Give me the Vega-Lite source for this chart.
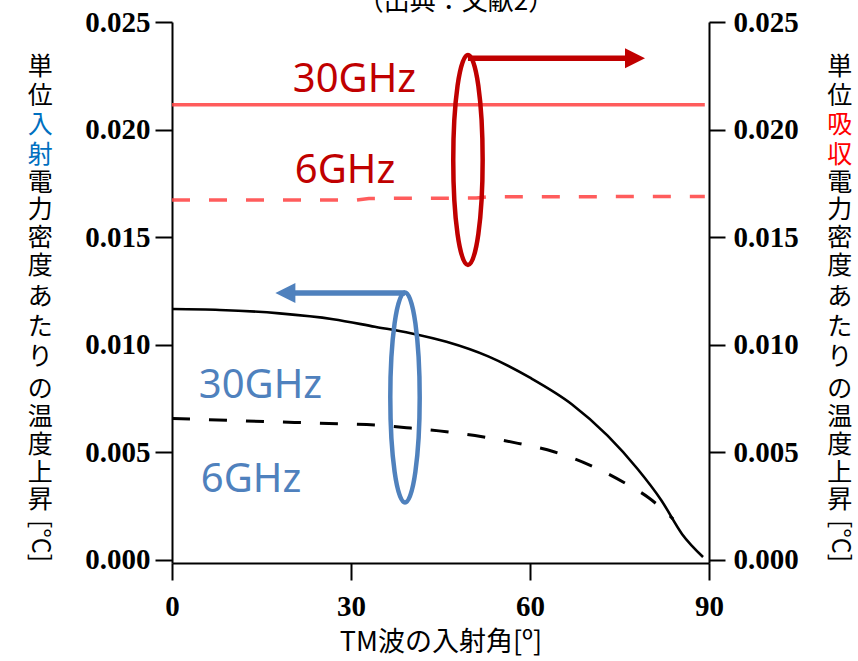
{
  "$schema": "https://vega.github.io/schema/vega-lite/v6.json",
  "autosize": {"type": "none"},
  "width": 537,
  "height": 541,
  "padding": {"left": 172, "top": 22, "right": 149, "bottom": 98},
  "background": "white",
  "config": {
    "view": {"stroke": null},
    "axis": {"grid": false, "domainColor": "black", "tickColor": "black", "labelColor": "black", "titleColor": "black", "domainWidth": 2, "tickWidth": 2, "labelFlush": false, "labelOverlap": false}
  },
  "datasets": {
    "curves": [
      {"angle": 0, "value": 0.01166, "series": "30GHz入射"},
      {"angle": 8, "value": 0.01162, "series": "30GHz入射"},
      {"angle": 18, "value": 0.01146, "series": "30GHz入射"},
      {"angle": 27, "value": 0.01119, "series": "30GHz入射"},
      {"angle": 34, "value": 0.01084, "series": "30GHz入射"},
      {"angle": 40, "value": 0.01054, "series": "30GHz入射"},
      {"angle": 46, "value": 0.01014, "series": "30GHz入射"},
      {"angle": 53, "value": 0.00946, "series": "30GHz入射"},
      {"angle": 60, "value": 0.00847, "series": "30GHz入射"},
      {"angle": 67, "value": 0.00724, "series": "30GHz入射"},
      {"angle": 73, "value": 0.00578, "series": "30GHz入射"},
      {"angle": 78, "value": 0.00424, "series": "30GHz入射"},
      {"angle": 82, "value": 0.00278, "series": "30GHz入射"},
      {"angle": 85.5, "value": 0.0012, "series": "30GHz入射"},
      {"angle": 89, "value": 0.00014, "series": "30GHz入射"},
      {"angle": 0, "value": 0.00658, "series": "6GHz入射"},
      {"angle": 16, "value": 0.00643, "series": "6GHz入射"},
      {"angle": 28, "value": 0.00633, "series": "6GHz入射"},
      {"angle": 34, "value": 0.00627, "series": "6GHz入射"},
      {"angle": 40, "value": 0.00613, "series": "6GHz入射"},
      {"angle": 46, "value": 0.00596, "series": "6GHz入射"},
      {"angle": 52, "value": 0.00573, "series": "6GHz入射"},
      {"angle": 58, "value": 0.00542, "series": "6GHz入射"},
      {"angle": 64, "value": 0.00503, "series": "6GHz入射"},
      {"angle": 70, "value": 0.00441, "series": "6GHz入射"},
      {"angle": 76, "value": 0.00356, "series": "6GHz入射"},
      {"angle": 80, "value": 0.00287, "series": "6GHz入射"},
      {"angle": 84, "value": 0.0019, "series": "6GHz入射"},
      {"angle": 0, "value": 0.02116, "series": "30GHz吸収"},
      {"angle": 89.3, "value": 0.02116, "series": "30GHz吸収"},
      {"angle": 0, "value": 0.01673, "series": "6GHz吸収"},
      {"angle": 31, "value": 0.01673, "series": "6GHz吸収"},
      {"angle": 33, "value": 0.0168, "series": "6GHz吸収"},
      {"angle": 51, "value": 0.01682, "series": "6GHz吸収"},
      {"angle": 53, "value": 0.01688, "series": "6GHz吸収"},
      {"angle": 89.3, "value": 0.01689, "series": "6GHz吸収"}
    ],
    "groups": [
      {"who": "吸収", "cx": 49.6, "cy": 0.01859, "ax1": 49.6, "ax2": 76.5, "ay": 0.02331, "hx": 77.6},
      {"who": "入射", "cx": 39.05, "cy": 0.00755, "ax1": 39.05, "ax2": 20.5, "ay": 0.01241, "hx": 19.0}
    ],
    "labels": [
      {"label": "30GHz", "who": "吸収", "lx": 30.58, "ly": 0.02175},
      {"label": "6GHz", "who": "吸収", "lx": 28.99, "ly": 0.01752},
      {"label": "30GHz", "who": "入射", "lx": 14.83, "ly": 0.00753},
      {"label": "6GHz", "who": "入射", "lx": 13.24, "ly": 0.00316}
    ],
    "ltitle": [
      {"ch": "単", "pos": 0.02291, "hl": false},
      {"ch": "位", "pos": 0.02156, "hl": false},
      {"ch": "入", "pos": 0.02021, "hl": true},
      {"ch": "射", "pos": 0.01882, "hl": true},
      {"ch": "電", "pos": 0.01752, "hl": false},
      {"ch": "力", "pos": 0.01626, "hl": false},
      {"ch": "密", "pos": 0.01496, "hl": false},
      {"ch": "度", "pos": 0.01366, "hl": false},
      {"ch": "あ", "pos": 0.01222, "hl": false},
      {"ch": "た", "pos": 0.01083, "hl": false},
      {"ch": "り", "pos": 0.00943, "hl": false},
      {"ch": "の", "pos": 0.00795, "hl": false},
      {"ch": "温", "pos": 0.00664, "hl": false},
      {"ch": "度", "pos": 0.00534, "hl": false},
      {"ch": "上", "pos": 0.00404, "hl": false},
      {"ch": "昇", "pos": 0.00279, "hl": false},
      {"ch": "[°C]", "pos": 0.00088, "hl": false}
    ],
    "rtitle": [
      {"ch": "単", "pos": 0.02291, "hl": false},
      {"ch": "位", "pos": 0.02156, "hl": false},
      {"ch": "吸", "pos": 0.02021, "hl": true},
      {"ch": "収", "pos": 0.01882, "hl": true},
      {"ch": "電", "pos": 0.01752, "hl": false},
      {"ch": "力", "pos": 0.01626, "hl": false},
      {"ch": "密", "pos": 0.01496, "hl": false},
      {"ch": "度", "pos": 0.01366, "hl": false},
      {"ch": "あ", "pos": 0.01222, "hl": false},
      {"ch": "た", "pos": 0.01083, "hl": false},
      {"ch": "り", "pos": 0.00943, "hl": false},
      {"ch": "の", "pos": 0.00795, "hl": false},
      {"ch": "温", "pos": 0.00664, "hl": false},
      {"ch": "度", "pos": 0.00534, "hl": false},
      {"ch": "上", "pos": 0.00404, "hl": false},
      {"ch": "昇", "pos": 0.00279, "hl": false},
      {"ch": "[°C]", "pos": 0.00088, "hl": false}
    ],
    "note": [
      {"text": "（出典：文献2）", "nx": 47.6, "ny": 0.02556}
    ]
  },
  "layer": [
    {
      "data": {"name": "curves"},
      "transform": [{"filter": "datum.series === '30GHz入射'"}],
      "mark": {"type": "line", "color": "black", "strokeWidth": 2.6, "interpolate": "monotone"},
      "encoding": {
        "x": {"field": "angle", "type": "quantitative", "scale": {"domain": [0, 90], "nice": false, "zero": false},
          "axis": {"values": [0, 30, 60, 90], "title": "TM波の入射角[º]", "tickSize": 17, "labelFont": "Liberation Serif", "labelFontSize": 29, "labelFontWeight": "bold", "labelPadding": 12, "titleFont": "Noto Sans CJK JP", "titleFontSize": 27, "titleFontWeight": "normal", "titlePadding": 8}},
        "y": {"field": "value", "type": "quantitative", "scale": {"domain": [-0.00014, 0.025], "nice": false, "zero": false},
          "axis": {"orient": "left", "values": [0, 0.005, 0.01, 0.015, 0.02, 0.025], "format": ".3f", "title": null, "tickSize": 17, "labelFont": "Liberation Serif", "labelFontSize": 29, "labelFontWeight": "bold", "labelPadding": 5}}
      }
    },
    {
      "data": {"name": "curves"},
      "transform": [{"filter": "datum.series === '30GHz吸収'"}],
      "mark": {"type": "line", "color": "#FF4040", "strokeWidth": 3.5, "opacity": 0.85},
      "encoding": {
        "x": {"field": "angle", "type": "quantitative", "scale": {"domain": [0, 90], "nice": false, "zero": false}},
        "y": {"field": "value", "type": "quantitative", "scale": {"domain": [-0.00014, 0.025], "nice": false, "zero": false},
          "axis": {"orient": "right", "values": [0, 0.005, 0.01, 0.015, 0.02, 0.025], "format": ".3f", "title": null, "tickSize": 16, "labelFont": "Liberation Serif", "labelFontSize": 29, "labelFontWeight": "bold", "labelPadding": 8}}
      }
    },
    {
      "data": {"name": "curves"},
      "transform": [{"filter": "datum.series === '6GHz入射'"}],
      "mark": {"type": "line", "color": "black", "strokeWidth": 3, "strokeDash": [18, 19], "interpolate": "monotone"},
      "encoding": {
        "x": {"field": "angle", "type": "quantitative", "scale": {"domain": [0, 90], "nice": false, "zero": false}},
        "y": {"field": "value", "type": "quantitative", "scale": {"domain": [-0.00014, 0.025], "nice": false, "zero": false}, "axis": null}
      }
    },
    {
      "data": {"name": "curves"},
      "transform": [{"filter": "datum.series === '6GHz吸収'"}],
      "mark": {"type": "line", "color": "#FF4040", "strokeWidth": 3.5, "opacity": 0.85, "strokeDash": [18, 19]},
      "encoding": {
        "x": {"field": "angle", "type": "quantitative", "scale": {"domain": [0, 90], "nice": false, "zero": false}},
        "y": {"field": "value", "type": "quantitative", "scale": {"domain": [-0.00014, 0.025], "nice": false, "zero": false}, "axis": null}
      }
    },
    {
      "data": {"name": "groups"},
      "mark": {"type": "point", "shape": "M0,-1A0.14,1,0,1,1,0,1A0.14,1,0,1,1,0,-1Z", "size": 44100, "filled": false, "strokeWidth": 4.5, "opacity": 1},
      "encoding": {
        "x": {"field": "cx", "type": "quantitative", "scale": {"domain": [0, 90], "nice": false, "zero": false}},
        "y": {"field": "cy", "type": "quantitative", "scale": {"domain": [-0.00014, 0.025], "nice": false, "zero": false}, "axis": null},
        "color": {"condition": {"test": "datum.who === '吸収'", "value": "#C00000"}, "value": "#4F81BD"}
      }
    },
    {
      "data": {"name": "groups"},
      "mark": {"type": "rule", "strokeWidth": 5.5},
      "encoding": {
        "x": {"field": "ax1", "type": "quantitative", "scale": {"domain": [0, 90], "nice": false, "zero": false}},
        "x2": {"field": "ax2"},
        "y": {"field": "ay", "type": "quantitative", "scale": {"domain": [-0.00014, 0.025], "nice": false, "zero": false}, "axis": null},
        "color": {"condition": {"test": "datum.who === '吸収'", "value": "#C00000"}, "value": "#4F81BD"}
      }
    },
    {
      "data": {"name": "groups"},
      "transform": [{"filter": "datum.who === '吸収'"}],
      "mark": {"type": "point", "shape": "M-1,-1L1,0L-1,1Z", "size": 400, "filled": true, "color": "#C00000", "opacity": 1},
      "encoding": {
        "x": {"field": "hx", "type": "quantitative", "scale": {"domain": [0, 90], "nice": false, "zero": false}},
        "y": {"field": "ay", "type": "quantitative", "scale": {"domain": [-0.00014, 0.025], "nice": false, "zero": false}, "axis": null}
      }
    },
    {
      "data": {"name": "groups"},
      "transform": [{"filter": "datum.who === '入射'"}],
      "mark": {"type": "point", "shape": "M1,-1L-1,0L1,1Z", "size": 400, "filled": true, "color": "#4F81BD", "opacity": 1},
      "encoding": {
        "x": {"field": "hx", "type": "quantitative", "scale": {"domain": [0, 90], "nice": false, "zero": false}},
        "y": {"field": "ay", "type": "quantitative", "scale": {"domain": [-0.00014, 0.025], "nice": false, "zero": false}, "axis": null}
      }
    },
    {
      "data": {"name": "labels"},
      "mark": {"type": "text", "font": "Noto Sans", "fontSize": 40, "align": "center", "baseline": "alphabetic"},
      "encoding": {
        "x": {"field": "lx", "type": "quantitative", "scale": {"domain": [0, 90], "nice": false, "zero": false}},
        "y": {"field": "ly", "type": "quantitative", "scale": {"domain": [-0.00014, 0.025], "nice": false, "zero": false}, "axis": null},
        "text": {"field": "label"},
        "color": {"condition": {"test": "datum.who === '吸収'", "value": "#C00000"}, "value": "#4F81BD"}
      }
    },
    {
      "data": {"name": "ltitle"},
      "mark": {"type": "text", "font": "Noto Sans CJK JP", "fontSize": 25, "align": "center", "baseline": "middle"},
      "encoding": {
        "x": {"datum": -22.1, "type": "quantitative", "scale": {"domain": [0, 90], "nice": false, "zero": false}},
        "y": {"field": "pos", "type": "quantitative", "scale": {"domain": [-0.00014, 0.025], "nice": false, "zero": false}, "axis": null},
        "text": {"field": "ch"},
        "angle": {"condition": {"test": "datum.ch === '[°C]'", "value": 90}, "value": 0},
        "color": {"condition": {"test": "datum.hl", "value": "#0070C0"}, "value": "black"}
      }
    },
    {
      "data": {"name": "rtitle"},
      "mark": {"type": "text", "font": "Noto Sans CJK JP", "fontSize": 25, "align": "center", "baseline": "middle"},
      "encoding": {
        "x": {"datum": 111.9, "type": "quantitative", "scale": {"domain": [0, 90], "nice": false, "zero": false}},
        "y": {"field": "pos", "type": "quantitative", "scale": {"domain": [-0.00014, 0.025], "nice": false, "zero": false}, "axis": null},
        "text": {"field": "ch"},
        "angle": {"condition": {"test": "datum.ch === '[°C]'", "value": 90}, "value": 0},
        "color": {"condition": {"test": "datum.hl", "value": "#FF0000"}, "value": "black"}
      }
    },
    {
      "data": {"name": "note"},
      "mark": {"type": "text", "font": "Noto Sans CJK JP", "fontSize": 26, "align": "center", "baseline": "alphabetic", "color": "black"},
      "encoding": {
        "x": {"field": "nx", "type": "quantitative", "scale": {"domain": [0, 90], "nice": false, "zero": false}},
        "y": {"field": "ny", "type": "quantitative", "scale": {"domain": [-0.00014, 0.025], "nice": false, "zero": false}, "axis": null},
        "text": {"field": "text"}
      }
    }
  ],
  "resolve": {"scale": {"y": "independent"}}
}
